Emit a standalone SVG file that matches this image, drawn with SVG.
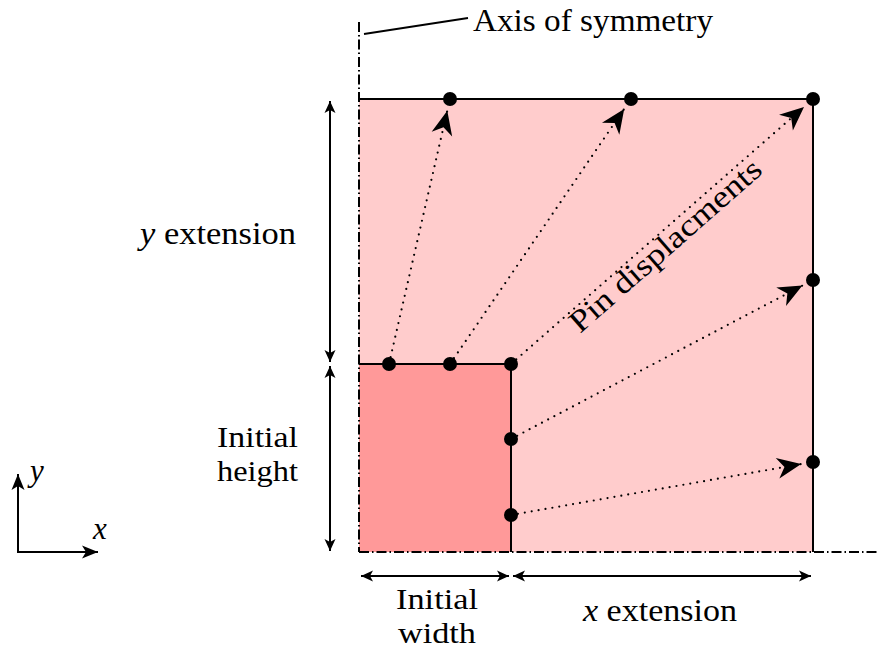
<svg xmlns="http://www.w3.org/2000/svg" width="880" height="651" viewBox="0 0 880 651">
<style>
  text { font-family: "Liberation Serif", "DejaVu Serif", "Times New Roman", serif; font-size: 31px; fill: #000; }
  .it { font-style: italic; }
  .sm { font-size: 29px; }
  .edge { fill: none; stroke: #000; stroke-width: 2; }
  .axis { fill: none; stroke: #000; stroke-width: 2; stroke-dasharray: 10 3 1.5 3; }
  .dim { fill: none; stroke: #000; stroke-width: 2; marker-start: url(#dimHead); marker-end: url(#dimHead); }
  .pin { fill: none; stroke: #000; stroke-width: 2.2; stroke-linecap: round; stroke-dasharray: 0 7; marker-end: url(#pinHead); }
  .dot { fill: #000; }
</style>
<defs>
  <marker id="pinHead" markerUnits="userSpaceOnUse" markerWidth="30" markerHeight="26" viewBox="-26 -13 30 26" refX="0" refY="0" orient="auto">
    <path d="M0,0 L-24,-10.5 L-17,0 L-24,10.5 Z" fill="#000"/>
  </marker>
  <marker id="dimHead" markerUnits="userSpaceOnUse" markerWidth="16" markerHeight="14" viewBox="-14 -7 16 14" refX="0" refY="0" orient="auto-start-reverse">
    <path d="M0,0 L-12,-5.5 L-9,0 L-12,5.5 Z" fill="#000"/>
  </marker>
  <marker id="axHead" markerUnits="userSpaceOnUse" markerWidth="20" markerHeight="16" viewBox="-18 -8 20 16" refX="0" refY="0" orient="auto">
    <path d="M0,0 L-16,-6.5 L-12,0 L-16,6.5 Z" fill="#000"/>
  </marker>
</defs>

<g id="outer-region">
  <rect x="359" y="99" width="454" height="453" fill="#ffcccc"/>
  <path class="edge" d="M359,99 H813 V552"/>
</g>
<g id="initial-region">
  <rect x="359" y="364" width="152" height="188" fill="#ff9999"/>
  <path class="edge" d="M359,364 H511 V552"/>
</g>
<g id="symmetry-axes">
  <line class="axis" x1="359" y1="22" x2="359" y2="552"/>
  <line class="axis" x1="359" y1="552" x2="877" y2="552"/>
  <line x1="364" y1="34" x2="468" y2="18" stroke="#000" stroke-width="2"/>
  <text x="473" y="31" textLength="240" lengthAdjust="spacingAndGlyphs">Axis of symmetry</text>
</g>

<g id="connectors">
  <line class="pin" x1="389" y1="364" x2="447.3" y2="110.7"/>
  <line class="pin" x1="450" y1="364" x2="624.2" y2="108.9"/>
  <line class="pin" x1="511" y1="364" x2="804" y2="106.9"/>
  <line class="pin" x1="511" y1="439" x2="802.4" y2="285.6"/>
  <line class="pin" x1="511" y1="515" x2="801.2" y2="464.1"/>
  <line class="dim" x1="330" y1="101" x2="330" y2="362"/>
  <line class="dim" x1="330" y1="366" x2="330" y2="551"/>
  <line class="dim" x1="361" y1="576" x2="509" y2="576"/>
  <line class="dim" x1="513" y1="576" x2="811" y2="576"/>
  <line x1="18" y1="553" x2="18" y2="474" stroke="#000" stroke-width="2" marker-end="url(#axHead)"/>
  <line x1="17" y1="552" x2="98" y2="552" stroke="#000" stroke-width="2" marker-end="url(#axHead)"/>
</g>

<g id="pins">
  <circle class="dot" cx="450" cy="99" r="7"/>
  <circle class="dot" cx="631" cy="99" r="7"/>
  <circle class="dot" cx="813" cy="99" r="7"/>
  <circle class="dot" cx="813" cy="280" r="7"/>
  <circle class="dot" cx="813" cy="462" r="7"/>
  <circle class="dot" cx="389" cy="364" r="7"/>
  <circle class="dot" cx="450" cy="364" r="7"/>
  <circle class="dot" cx="511" cy="364" r="7"/>
  <circle class="dot" cx="511" cy="439" r="7"/>
  <circle class="dot" cx="511" cy="515" r="7"/>
</g>

<g id="labels">
  <text transform="translate(580,334) rotate(-41.3)" textLength="245" lengthAdjust="spacingAndGlyphs">Pin displacments</text>
  <text x="140" y="244" textLength="156" lengthAdjust="spacingAndGlyphs"><tspan class="it">y</tspan> extension</text>
  <text class="sm" x="217" y="447" textLength="81" lengthAdjust="spacingAndGlyphs">Initial</text>
  <text class="sm" x="217" y="481" textLength="81" lengthAdjust="spacingAndGlyphs">height</text>
  <text class="sm" x="396" y="609" textLength="82" lengthAdjust="spacingAndGlyphs">Initial</text>
  <text class="sm" x="398" y="643" textLength="78" lengthAdjust="spacingAndGlyphs">width</text>
  <text x="583" y="621" textLength="154" lengthAdjust="spacingAndGlyphs"><tspan class="it">x</tspan> extension</text>
  <text class="it" x="30" y="481">y</text>
  <text class="it" x="93" y="539">x</text>
</g>
</svg>
